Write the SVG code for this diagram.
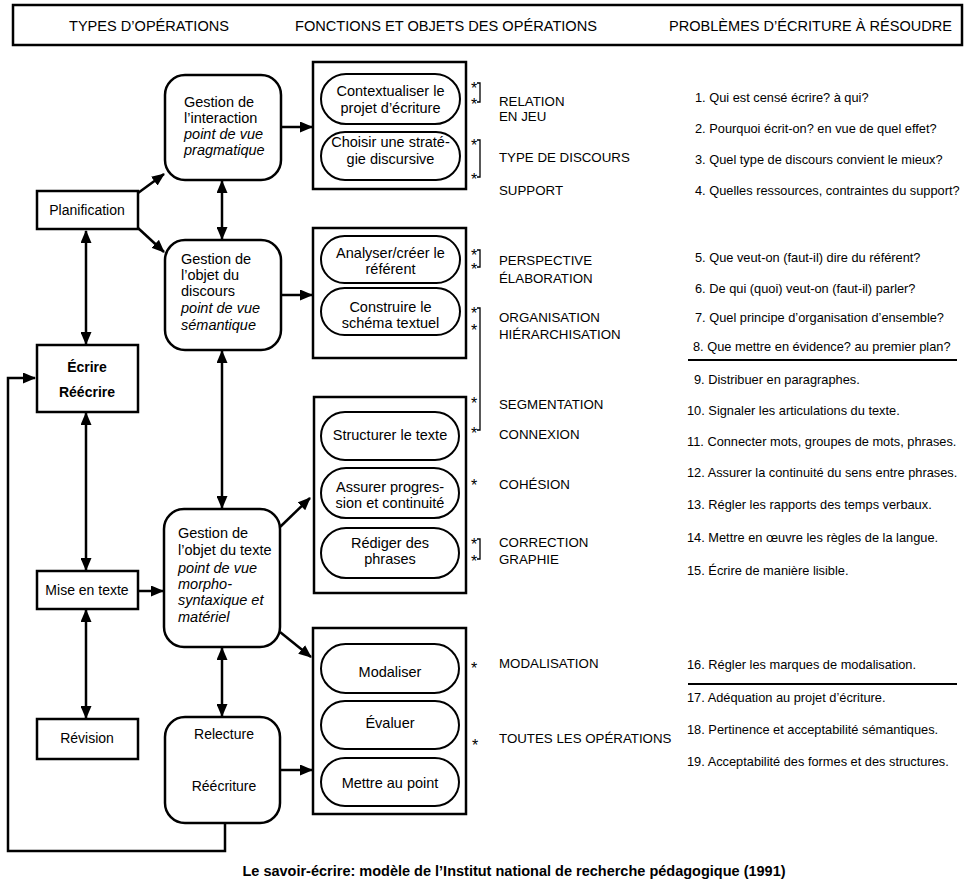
<svg xmlns="http://www.w3.org/2000/svg" width="973" height="888" viewBox="0 0 973 888">
<defs>
<marker id="ah" markerUnits="userSpaceOnUse" markerWidth="13" markerHeight="11" refX="12" refY="5.5" orient="auto-start-reverse">
<path d="M0,0 L13,5.5 L0,11 z" fill="#000"/>
</marker>
<style>
.t{font-family:"Liberation Sans",Arial,sans-serif;fill:#000}
.h{font-size:15px}
.g{font-size:14.5px}
.i{font-style:italic}
.p{font-size:14.5px;text-anchor:middle}
.l{font-size:13.3px}
.n{font-size:12.8px}
.b{fill:#fff;stroke:#000;stroke-width:2.5}
.pill{fill:#fff;stroke:#000;stroke-width:2}
.c{fill:none;stroke:#000;stroke-width:2.5}
.k{fill:none;stroke:#000;stroke-width:1.3}
.s{font-size:14px;text-anchor:middle}
</style>
</defs>
<rect width="973" height="888" fill="#fff"/>

<g id="header">
<rect x="13" y="5" width="949" height="40" fill="#fff" stroke="#000" stroke-width="2.5"/>
<text class="t h" x="69" y="31" textLength="160" lengthAdjust="spacingAndGlyphs">TYPES D’OPÉRATIONS</text>
<text class="t h" x="295" y="31" textLength="302" lengthAdjust="spacingAndGlyphs">FONCTIONS ET OBJETS DES OPÉRATIONS</text>
<text class="t h" x="669" y="31" textLength="283" lengthAdjust="spacingAndGlyphs">PROBLÈMES D’ÉCRITURE À RÉSOUDRE</text>
</g>

<g id="planification"><rect class="b" x="37" y="191" width="101" height="38"/><text class="t s" x="87" y="215">Planification</text></g>
<g id="ecrire"><rect class="b" x="37" y="345" width="101" height="67"/><text class="t s" x="87" y="372" font-weight="bold">Écrire</text><text class="t s" x="87" y="397" font-weight="bold">Réécrire</text></g>
<g id="mise-en-texte"><rect class="b" x="37" y="571" width="101" height="38"/><text class="t s" x="87" y="595">Mise en texte</text></g>
<g id="revision"><rect class="b" x="37" y="719" width="101" height="40"/><text class="t s" x="87" y="743">Révision</text></g>

<g id="gestion-interaction"><rect class="b" x="165" y="75" width="116" height="105" rx="20"/>
<text class="t g" x="184" y="107">Gestion de</text><text class="t g" x="184" y="123">l’interaction</text>
<text class="t g i" x="184" y="139">point de vue</text><text class="t g i" x="184" y="155">pragmatique</text></g>
<g id="gestion-discours"><rect class="b" x="165" y="240" width="116" height="110" rx="20"/>
<text class="t g" x="181" y="264">Gestion de</text><text class="t g" x="181" y="280">l’objet du</text><text class="t g" x="181" y="296">discours</text>
<text class="t g i" x="181" y="313">point de vue</text><text class="t g i" x="181" y="330">sémantique</text></g>
<g id="gestion-texte"><rect class="b" x="164" y="509" width="116" height="138" rx="20"/>
<text class="t g" x="178" y="538">Gestion de</text><text class="t g" x="178" y="555">l’objet du texte</text>
<text class="t g i" x="178" y="573">point de vue</text><text class="t g i" x="178" y="589">morpho-</text>
<text class="t g i" x="178" y="605">syntaxique et</text><text class="t g i" x="178" y="622">matériel</text></g>
<g id="relecture"><rect class="b" x="165" y="717" width="115" height="106" rx="20"/>
<text class="t s" x="224" y="739">Relecture</text><text class="t s" x="224" y="791">Réécriture</text></g>

<g id="box1"><rect class="b" x="313" y="62" width="153" height="127"/>
<rect class="pill" x="321" y="74" width="139" height="50" rx="25"/>
<text class="t p" x="390.5" y="96">Contextualiser le</text><text class="t p" x="390.5" y="113">projet d’écriture</text>
<rect class="pill" x="321" y="132" width="139" height="48" rx="24"/>
<text class="t p" x="390.5" y="147">Choisir une straté-</text><text class="t p" x="390.5" y="164">gie discursive</text></g>

<g id="box2"><rect class="b" x="313" y="228" width="153" height="130"/>
<rect class="pill" x="321" y="236" width="139" height="47" rx="23.5"/>
<text class="t p" x="390.5" y="258">Analyser/créer le</text><text class="t p" x="390.5" y="274">référent</text>
<rect class="pill" x="321" y="288" width="139" height="47" rx="23.5"/>
<text class="t p" x="390.5" y="312">Construire le</text><text class="t p" x="390.5" y="328">schéma textuel</text></g>

<g id="box3"><rect class="b" x="314" y="397" width="152" height="196"/>
<rect class="pill" x="321" y="412" width="138" height="48" rx="24"/>
<text class="t p" x="390" y="440">Structurer le texte</text>
<rect class="pill" x="321" y="468" width="138" height="50" rx="25"/>
<text class="t p" x="390" y="492">Assurer progres-</text><text class="t p" x="390" y="508">sion et continuité</text>
<rect class="pill" x="321" y="528" width="138" height="50" rx="25"/>
<text class="t p" x="390" y="548">Rédiger des</text><text class="t p" x="390" y="564">phrases</text></g>

<g id="box4"><rect class="b" x="313" y="628" width="153" height="186"/>
<rect class="pill" x="321" y="644" width="138" height="49" rx="24.5"/>
<text class="t p" x="390" y="677">Modaliser</text>
<rect class="pill" x="321" y="701" width="138" height="48" rx="24"/>
<text class="t p" x="390" y="728">Évaluer</text>
<rect class="pill" x="321" y="758" width="138" height="48" rx="24"/>
<text class="t p" x="390" y="788">Mettre au point</text></g>

<g id="connectors">
<line class="c" x1="138" y1="193" x2="164" y2="174" marker-end="url(#ah)"/>
<line class="c" x1="138" y1="228" x2="164" y2="252" marker-end="url(#ah)"/>
<line class="c" x1="222" y1="181" x2="222" y2="239" marker-start="url(#ah)" marker-end="url(#ah)"/>
<line class="c" x1="222" y1="351" x2="222" y2="508" marker-start="url(#ah)" marker-end="url(#ah)"/>
<line class="c" x1="222" y1="648" x2="222" y2="716" marker-start="url(#ah)" marker-end="url(#ah)"/>
<line class="c" x1="281" y1="127" x2="312" y2="127" marker-end="url(#ah)"/>
<line class="c" x1="281" y1="295" x2="312" y2="295" marker-end="url(#ah)"/>
<line class="c" x1="280" y1="527" x2="310" y2="498" marker-end="url(#ah)"/>
<line class="c" x1="280" y1="632" x2="311" y2="657" marker-end="url(#ah)"/>
<line class="c" x1="280" y1="770" x2="312" y2="770" marker-end="url(#ah)"/>
<line class="c" x1="138" y1="591" x2="163" y2="591" marker-end="url(#ah)"/>
<line class="c" x1="86" y1="231" x2="86" y2="344" marker-start="url(#ah)" marker-end="url(#ah)"/>
<line class="c" x1="86" y1="413" x2="86" y2="570" marker-start="url(#ah)" marker-end="url(#ah)"/>
<line class="c" x1="86" y1="610" x2="86" y2="718" marker-start="url(#ah)" marker-end="url(#ah)"/>
<polyline class="c" points="225,823 225,851 8,851 8,378 35,378" marker-end="url(#ah)"/>
</g>

<g id="asterisks">
<g class="t" font-size="16" text-anchor="middle">
<text x="474" y="94">*</text><text x="474" y="110">*</text>
<text x="474" y="151">*</text><text x="474" y="185">*</text>
<text x="474" y="261">*</text><text x="474" y="275">*</text>
<text x="474" y="319">*</text><text x="474" y="336">*</text>
<text x="474" y="409">*</text><text x="474" y="439">*</text>
<text x="474" y="491">*</text>
<text x="474" y="550">*</text><text x="474" y="567">*</text>
<text x="474" y="674">*</text>
<text x="475" y="751">*</text>
</g>
<path class="k" d="M477,83 H480 V102 H477"/>
<path class="k" d="M477,140 H480 V177 H477"/>
<path class="k" d="M477,250 H480 V267 H477"/>
<path class="k" d="M477,308 H480 V430 H477"/>
<path class="k" d="M477,539 H480 V559 H477"/>
</g>

<g id="labels" class="t l">
<text x="499" y="106">RELATION</text><text x="499" y="121">EN JEU</text>
<text x="499" y="162">TYPE DE DISCOURS</text>
<text x="499" y="195">SUPPORT</text>
<text x="499" y="265">PERSPECTIVE</text><text x="499" y="283">ÉLABORATION</text>
<text x="499" y="322">ORGANISATION</text><text x="499" y="339">HIÉRARCHISATION</text>
<text x="499" y="409">SEGMENTATION</text><text x="499" y="439">CONNEXION</text>
<text x="499" y="489">COHÉSION</text>
<text x="499" y="547">CORRECTION</text><text x="499" y="564">GRAPHIE</text>
<text x="499" y="668">MODALISATION</text>
<text x="499" y="743">TOUTES LES OPÉRATIONS</text>
</g>

<g id="problems" class="t n">
<text x="695" y="102">1. Qui est censé écrire? à qui?</text>
<text x="695" y="133">2. Pourquoi écrit-on? en vue de quel effet?</text>
<text x="695" y="164">3. Quel type de discours convient le mieux?</text>
<text x="695" y="195">4. Quelles ressources, contraintes du support?</text>
<text x="695" y="262">5. Que veut-on (faut-il) dire du référent?</text>
<text x="695" y="293">6. De qui (quoi) veut-on (faut-il) parler?</text>
<text x="695" y="322">7. Quel principe d’organisation d’ensemble?</text>
<text x="693" y="351">8. Que mettre en évidence? au premier plan?</text>
<line x1="688" y1="360" x2="957" y2="360" stroke="#000" stroke-width="2.2"/>
<text x="694" y="384">9. Distribuer en paragraphes.</text>
<text x="687" y="415">10. Signaler les articulations du texte.</text>
<text x="687" y="446">11. Connecter mots, groupes de mots, phrases.</text>
<text x="687" y="477">12. Assurer la continuité du sens entre phrases.</text>
<text x="687" y="509">13. Régler les rapports des temps verbaux.</text>
<text x="687" y="542">14. Mettre en œuvre les règles de la langue.</text>
<text x="687" y="575">15. Écrire de manière lisible.</text>
<text x="687" y="669">16. Régler les marques de modalisation.</text>
<line x1="688" y1="684" x2="957" y2="684" stroke="#000" stroke-width="2.2"/>
<text x="687" y="702">17. Adéquation au projet d’écriture.</text>
<text x="687" y="734">18. Pertinence et acceptabilité sémantiques.</text>
<text x="687" y="766">19. Acceptabilité des formes et des structures.</text>
</g>

<text class="t" x="514" y="876" font-size="14.5" font-weight="bold" text-anchor="middle">Le savoir-écrire: modèle de l’Institut national de recherche pédagogique (1991)</text>
</svg>
